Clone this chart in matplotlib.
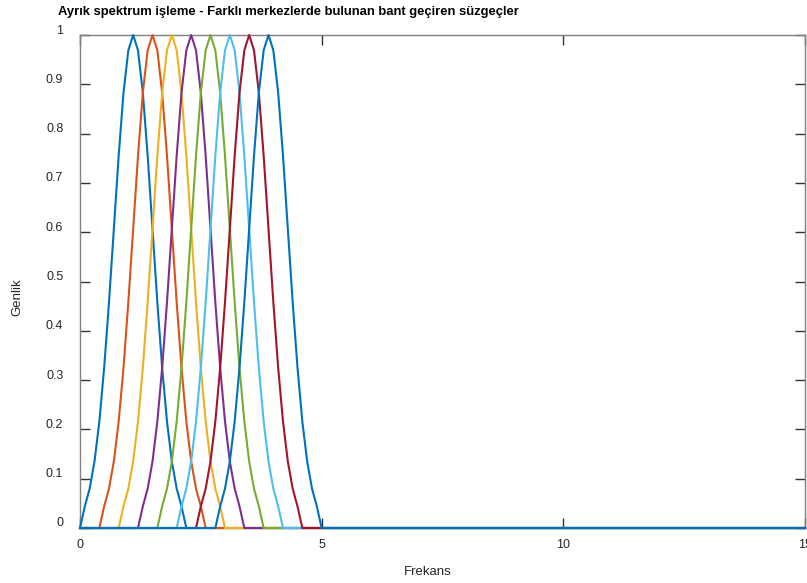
import numpy as np
import matplotlib.pyplot as plt
from matplotlib.transforms import ScaledTranslation

plt.rcParams['font.family'] = ['Liberation Sans', 'DejaVu Sans']

# frequency grid (0..15, step 0.1)
freq_start = 0.0
freq_step = 0.1
n_points = 151

# filter centres
centers = [1.1, 1.5, 1.9, 2.3, 2.7, 3.1, 3.5, 3.9]

# one side of the band-pass response: offset 0, 0.1, ... 1.1 from centre
profile = [1.0, 0.969, 0.883, 0.755, 0.607, 0.458, 0.325, 0.216, 0.135, 0.080, 0.044, 0.0]

colors = ['#0072BD', '#D95319', '#EDB120', '#7E2F8E', '#77AC30', '#4DBEEE', '#A2142F', '#0072BD']

xticks = [0, 5, 10, 15]
yticks = [0, 0.1, 0.2, 0.3, 0.4, 0.5, 0.6, 0.7, 0.8, 0.9, 1]
ytick_labels = ['0', '0.1', '0.2', '0.3', '0.4', '0.5', '0.6', '0.7', '0.8', '0.9', '1']

freq = freq_start + freq_step * np.arange(n_points)
full_profile = np.array(profile[::-1] + profile[1:])
half = len(profile) - 1

fig = plt.figure(figsize=(8.07, 5.83), dpi=100)
ax = fig.add_axes([80 / 807, 55 / 583, 725 / 807, 493 / 583])

for c, col in zip(centers, colors):
    y = np.zeros(n_points)
    ic = int(round((c - freq_start) / freq_step))
    lo = ic - half
    for j, v in enumerate(full_profile):
        if 0 <= lo + j < n_points:
            y[lo + j] = v
    ax.plot(freq, y, color=col, lw=1.5, clip_on=False, zorder=3)

ax.set_xlim(0, 15)
ax.set_ylim(0, 1)
ax.set_xticks(xticks)
ax.set_yticks(yticks)
ax.set_yticklabels(ytick_labels)

for s in ax.spines.values():
    s.set_color('#808080')
    s.set_linewidth(1.0)
ax.tick_params(direction='in', length=7, width=1.0, color='#333333',
               labelsize=9, labelcolor='#262626', top=True, right=True)
ax.tick_params(axis='y', pad=12)
ax.tick_params(axis='x', pad=8)

offset = ScaledTranslation(0, 0.06, fig.dpi_scale_trans)
for lab in ax.get_yticklabels():
    lab.set_transform(lab.get_transform() + offset)

fig.text(428 / 807, 1 - 572 / 583, 'Frekans', ha='center', va='center',
         fontsize=9.5, color='#262626')
fig.text(17 / 807, 1 - 297 / 583, 'Genlik', ha='center', va='center',
         rotation=90, fontsize=9.5, color='#262626')
fig.text(58 / 807, 1 - 12 / 583,
         'Ayrık spektrum işleme - Farklı merkezlerde bulunan bant geçiren süzgeçler',
         ha='left', va='center', fontsize=9.4, fontweight='bold', color='black')

fig.savefig('out.png', dpi=100)
